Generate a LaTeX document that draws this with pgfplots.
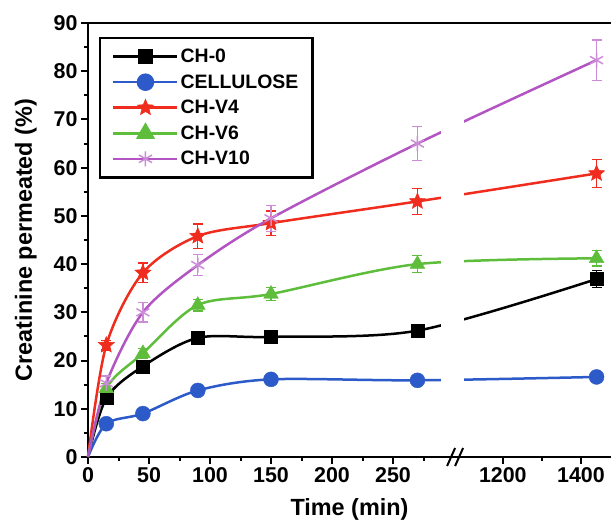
\documentclass[border=0pt]{standalone}
\usepackage{pgfplots}
\pgfplotsset{compat=1.18}
\usepackage{pgfplotstable}
\usepackage{fontspec}
\setmainfont{Liberation Sans}
\definecolor{cblue}{RGB}{44,90,200}
\definecolor{cred}{RGB}{240,44,30}
\definecolor{cgreen}{RGB}{94,190,60}
\definecolor{cpurple}{RGB}{178,84,194}
\definecolor{cpurplem}{RGB}{204,140,216}

\pgfdeclareplotmark{fstar}{%
  \pgfpathmoveto{\pgfpointpolar{90}{\pgfplotmarksize}}%
  \pgfpathlineto{\pgfpointpolar{126}{0.45\pgfplotmarksize}}%
  \pgfpathlineto{\pgfpointpolar{162}{\pgfplotmarksize}}%
  \pgfpathlineto{\pgfpointpolar{198}{0.45\pgfplotmarksize}}%
  \pgfpathlineto{\pgfpointpolar{234}{\pgfplotmarksize}}%
  \pgfpathlineto{\pgfpointpolar{270}{0.45\pgfplotmarksize}}%
  \pgfpathlineto{\pgfpointpolar{306}{\pgfplotmarksize}}%
  \pgfpathlineto{\pgfpointpolar{342}{0.45\pgfplotmarksize}}%
  \pgfpathlineto{\pgfpointpolar{18}{\pgfplotmarksize}}%
  \pgfpathlineto{\pgfpointpolar{54}{0.45\pgfplotmarksize}}%
  \pgfpathclose
  \pgfusepathqfillstroke
}

\pgfplotsset{legline/.style={legend image code/.code={%
  \draw[#1,line width=2.5bp](0bp,0bp)--(64bp,0bp);
  \draw[##1] plot coordinates {(32bp,0bp)};}}}

% time (min), value (%), error
\pgfplotstableread{
x y e
15 12.2 0.8
45 18.8 0.9
90 24.7 0.9
150 24.9 0.8
270 26.2 1.0
1440 36.9 1.8
}\chzero
\pgfplotstableread{
x y e
15 6.9 0.4
45 9.0 0.5
90 13.8 0.5
150 16.1 0.5
270 15.9 0.4
1440 16.6 0.5
}\cellulose
\pgfplotstableread{
x y e
15 23.2 1.0
45 38.2 2.0
90 45.8 2.5
150 48.5 2.5
270 53.0 2.7
1440 58.8 2.9
}\chvfour
\pgfplotstableread{
x y e
15 14.2 1.0
45 21.5 1.0
90 31.5 1.2
150 33.8 1.3
270 40.0 1.8
1440 41.2 1.6
}\chvsix
\pgfplotstableread{
x y e
15 15.3 1.5
45 30.0 2.0
90 39.8 2.2
150 49.5 2.7
270 65.0 3.5
1440 82.3 4.2
}\chvten

\begin{document}
\begin{tikzpicture}
\begin{axis}[
  scale only axis, width=523bp, height=434bp,
  xmin=0, xmax=1477, ymin=0, ymax=90,
  x coord trafo/.code={\pgfmathparse{#1>700 ? 340+(#1-1200)*0.32 : #1}},
  axis x line*=bottom, axis y line*=left,
  axis line style={line width=2.5bp},
  tick align=outside,
  major tick length=7bp, minor tick length=4bp,
  tick style={black, line width=2bp},
  xtick={0,50,100,150,200,250,1200,1400},
  xticklabels={0,50,100,150,200,250,1200,1400},
  minor xtick={25,75,125,175,225,275,1300},
  ytick={0,10,...,90}, minor ytick={5,15,...,85},
  /pgf/number format/assume math mode=true,
  ticklabel style={font=\bfseries\fontsize{21.5}{24}\selectfont},
  xlabel={Time (min)}, ylabel={Creatinine permeated (\%)},
  label style={font=\bfseries\fontsize{23.5}{26}\selectfont},
  xlabel style={yshift=-9bp},
  ylabel style={yshift=10bp},
  clip=false,
  legend cell align=left,
  legend style={at={(0.021,0.968)}, anchor=north west, draw=black,
    line width=2.5bp, inner xsep=12bp, inner ysep=9bp, row sep=6.5bp,
    font=\bfseries\fontsize{19.5}{22}\selectfont},
]
% smooth connecting curves
\addplot[black, line width=2.5bp, smooth, forget plot] coordinates {(0,0) (15,12.2) (45,18.8) (90,24.7) (150,24.9) (270,26.2) (1440,36.9)};
\addplot[cblue, line width=2.5bp, smooth, forget plot] coordinates {(0,0) (15,6.9) (45,9.0) (90,13.8) (150,16.1) (270,15.9) (1440,16.6)};
\addplot[cred, line width=2.5bp, smooth, forget plot] coordinates {(0,0) (15,23.2) (45,38.2) (90,45.8) (150,48.5) (270,53.0) (1440,58.8)};
\addplot[cgreen, line width=2.5bp, smooth, forget plot] coordinates {(0,0) (15,14.2) (45,21.5) (90,31.5) (150,33.8) (270,40.0) (1440,41.2)};
\addplot[cpurple, line width=2.5bp, smooth, forget plot] coordinates {(0,0) (15,15.3) (45,30.0) (90,39.8) (150,49.5) (270,65.0) (1440,82.3)};
% gap at the axis break
\fill[white] (rel axis cs:0.674,0.022) rectangle (rel axis cs:0.719,0.978);
% markers with error bars
\addplot[only marks, black, mark=square*, mark size=6.5bp, legline=black,
  error bars/.cd, y dir=both, y explicit,
  error bar style={line width=1.3bp, black},
  error mark options={rotate=90, mark size=5bp, line width=1.3bp, black}]
  table[x=x, y=y, y error=e] {\chzero};
\addlegendentry{CH-0}
\addplot[only marks, cblue, mark=*, mark size=7.5bp, mark options={fill=cblue, draw=cblue}, legline=cblue,
  error bars/.cd, y dir=both, y explicit,
  error bar style={line width=1.3bp, cblue},
  error mark options={rotate=90, mark size=5bp, line width=1.3bp, cblue}]
  table[x=x, y=y, y error=e] {\cellulose};
\addlegendentry{CELLULOSE}
\addplot[only marks, cred, mark=fstar, mark size=8.5bp, mark options={fill=cred, draw=cred, line width=0.5bp}, legline=cred,
  error bars/.cd, y dir=both, y explicit,
  error bar style={line width=1.3bp, cred},
  error mark options={rotate=90, mark size=5bp, line width=1.3bp, cred}]
  table[x=x, y=y, y error=e] {\chvfour};
\addlegendentry{CH-V4}
\addplot[only marks, cgreen, mark=triangle*, mark size=8.5bp, mark options={fill=cgreen, draw=cgreen}, legline=cgreen,
  error bars/.cd, y dir=both, y explicit,
  error bar style={line width=1.3bp, cgreen},
  error mark options={rotate=90, mark size=5bp, line width=1.3bp, cgreen}]
  table[x=x, y=y, y error=e] {\chvsix};
\addlegendentry{CH-V6}
\addplot[only marks, cpurplem, mark=asterisk, mark size=7.5bp, mark options={draw=cpurplem, line width=1.5bp}, legline=cpurple,
  error bars/.cd, y dir=both, y explicit,
  error bar style={line width=1.3bp, cpurplem},
  error mark options={rotate=90, mark size=5bp, line width=1.3bp, cpurplem}]
  table[x=x, y=y, y error=e] {\chvten};
\addlegendentry{CH-V10}
% top frame line
\draw[black, line width=2.5bp] (rel axis cs:0,1) -- (rel axis cs:1,1);
% axis break mark
\draw[black, line width=2bp] ([shift={(-7bp,-9bp)}]rel axis cs:0.700,0) -- ([shift={(1bp,9bp)}]rel axis cs:0.700,0);
\draw[black, line width=2bp] ([shift={(1bp,-9bp)}]rel axis cs:0.700,0) -- ([shift={(9bp,9bp)}]rel axis cs:0.700,0);
\end{axis}
\pgfresetboundingbox
\path ([shift={(-88bp,-63bp)}]current axis.south west) rectangle ([shift={(0bp,23bp)}]current axis.north east);
\end{tikzpicture}
\end{document}
